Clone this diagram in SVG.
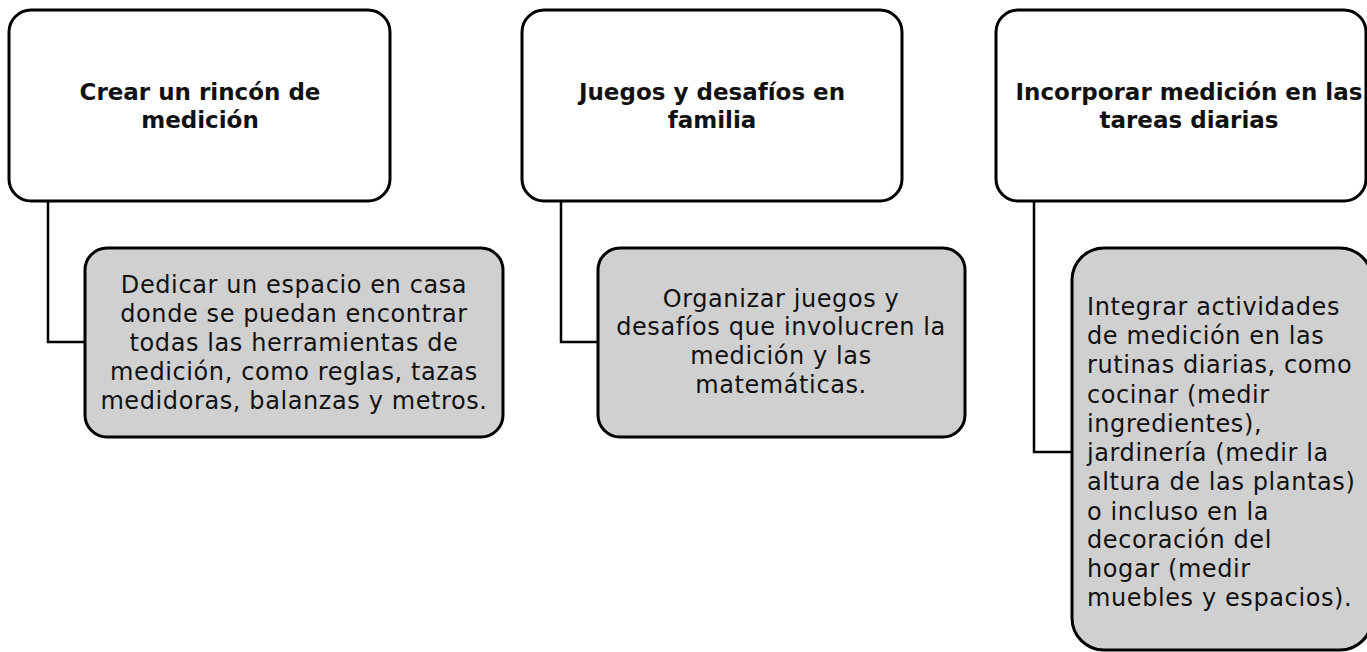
<svg xmlns="http://www.w3.org/2000/svg" width="1367" height="652" viewBox="0 0 1367 652">
<style>
.head{fill:#ffffff;stroke:#000000;stroke-width:3}
.sub{fill:#d0d0d0;stroke:#000000;stroke-width:3}
.conn{fill:none;stroke:#000000;stroke-width:2.5}
.t{font-family:"DejaVu Sans","Liberation Sans",sans-serif;fill:#111111}
.tb{font-size:23px;font-weight:bold;text-anchor:middle}
.tr{font-size:24px;letter-spacing:0.6px}
.mid{text-anchor:middle}
</style>
<rect width="1367" height="652" fill="#ffffff"/>
<g id="connectors">
<path class="conn" d="M48,201 V342 H85"/>
<path class="conn" d="M561,201 V342 H598"/>
<path class="conn" d="M1034,201 V452 H1072"/>
</g>
<g id="node-1">
<rect class="head" x="9" y="10" width="381" height="191" rx="22"/>
<text class="t tb" x="200" y="100">Crear un rincón de</text>
<text class="t tb" x="200" y="128">medición</text>
</g>
<g id="node-1-detail">
<rect class="sub" x="85" y="248" width="418" height="189" rx="22"/>
<text class="t tr mid" x="294" y="293">Dedicar un espacio en casa</text>
<text class="t tr mid" x="294" y="322">donde se puedan encontrar</text>
<text class="t tr mid" x="294" y="351">todas las herramientas de</text>
<text class="t tr mid" x="294" y="380">medición, como reglas, tazas</text>
<text class="t tr mid" x="294" y="409">medidoras, balanzas y metros.</text>
</g>
<g id="node-2">
<rect class="head" x="522" y="10" width="380" height="191" rx="22"/>
<text class="t tb" x="712" y="100">Juegos y desafíos en</text>
<text class="t tb" x="712" y="128">familia</text>
</g>
<g id="node-2-detail">
<rect class="sub" x="598" y="248" width="367" height="189" rx="22"/>
<text class="t tr mid" x="781" y="307">Organizar juegos y</text>
<text class="t tr mid" x="781" y="335">desafíos que involucren la</text>
<text class="t tr mid" x="781" y="364">medición y las</text>
<text class="t tr mid" x="781" y="393">matemáticas.</text>
</g>
<g id="node-3">
<rect class="head" x="996" y="10" width="370" height="191" rx="22"/>
<text class="t tb" x="1189" y="100">Incorporar medición en las</text>
<text class="t tb" x="1189" y="128">tareas diarias</text>
</g>
<g id="node-3-detail">
<rect class="sub" x="1072" y="248" width="300" height="402" rx="32"/>
<text class="t tr" x="1087" y="315">Integrar actividades</text>
<text class="t tr" x="1087" y="344">de medición en las</text>
<text class="t tr" x="1087" y="373">rutinas diarias, como</text>
<text class="t tr" x="1087" y="403">cocinar (medir</text>
<text class="t tr" x="1087" y="432">ingredientes),</text>
<text class="t tr" x="1087" y="461">jardinería (medir la</text>
<text class="t tr" x="1087" y="490">altura de las plantas)</text>
<text class="t tr" x="1087" y="520">o incluso en la</text>
<text class="t tr" x="1087" y="548">decoración del</text>
<text class="t tr" x="1087" y="577">hogar (medir</text>
<text class="t tr" x="1087" y="606">muebles y espacios).</text>
</g>
</svg>
